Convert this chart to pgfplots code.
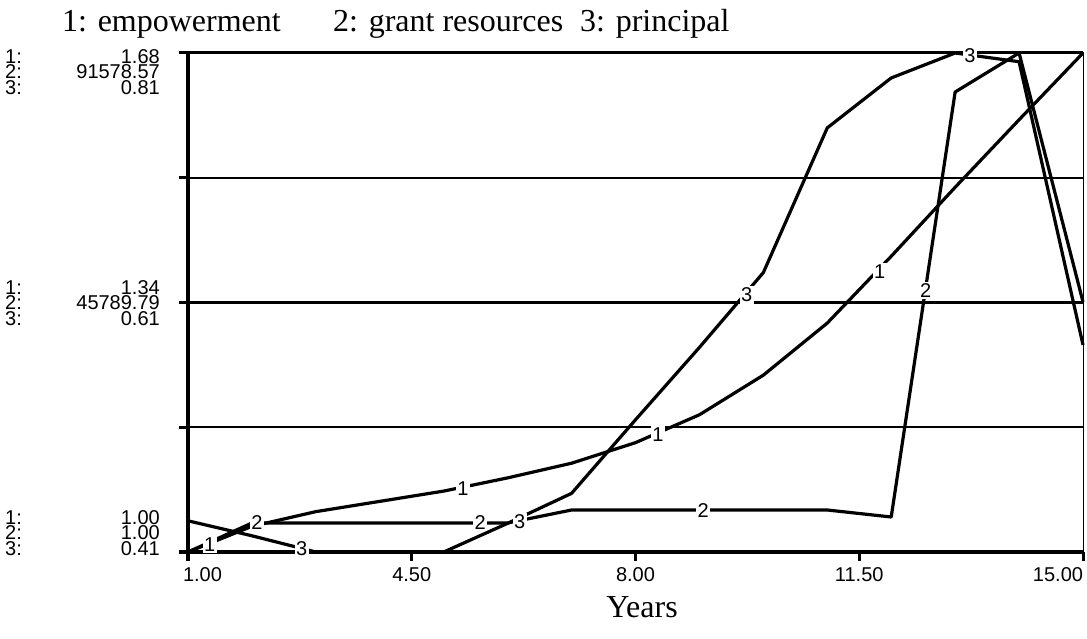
\documentclass[border=0pt]{standalone}
\usepackage{pgfplots}
\pgfplotsset{compat=1.18}
\usepackage{pgfplotstable}
\usepackage{fontspec}
\setmainfont{Liberation Serif}
\newfontfamily\hv{Liberation Sans}
\newcommand{\lbl}{\hv\fontsize{20bp}{20bp}\selectfont}
\newcommand{\grpfont}{\hv\fontsize{20bp}{15.5bp}\selectfont}
\newcommand{\ttl}{\rmfamily\fontsize{32bp}{32bp}\selectfont}

% 1: empowerment
\pgfplotstableread{
t v
1 1.000
2 1.035
3 1.055
4 1.069
5 1.083
6 1.101
7 1.121
8 1.149
9 1.187
10 1.241
11 1.312
12 1.403
13 1.497
14 1.589
15 1.680
}\sone
% 2: grant resources
\pgfplotstableread{
t v
1 1
2 5323
3 5323
4 5323
5 5323
6 5323
7 7709
8 7709
9 7709
10 7709
11 7709
12 6424
13 84420
14 91578.57
15 45881
}\stwo
% 3: principal
\pgfplotstableread{
t v
1 0.435
2 0.423
3 0.410
4 0.410
5 0.410
6 0.433
7 0.457
8 0.516
9 0.574
10 0.634
11 0.750
12 0.790
13 0.810
14 0.803
15 0.576
}\sthree
% line label positions
\pgfplotstableread{
t v
1.34 1.010
5.30 1.086
8.35 1.160
11.82 1.382
}\lone
\pgfplotstableread{
t v
2.08 5323
5.57 5323
9.06 7600
12.54 48000
}\ltwo
\pgfplotstableread{
t v
2.78 0.413
6.19 0.434
9.74 0.616
13.23 0.808
}\lthree

\newcommand{\grp}[4]{%
  \node[anchor=west,inner sep=0pt,font=\grpfont,align=left] at (-183bp,#1bp) {1:\\2:\\3:};
  \node[anchor=east,inner sep=0pt,font=\grpfont,align=right] at (-28bp,#1bp) {#2\\#3\\#4};
}

\begin{document}
\begin{tikzpicture}
\path[use as bounding box] (-188bp,-87bp) rectangle (899bp,552bp);
\begin{axis}[
  at={(0,0)}, anchor=south west,
  width=895bp, height=499bp, scale only axis,
  xmin=1, xmax=15, ymin=0, ymax=1,
  clip=false,
  axis line style={line width=1bp, black},
  xtick={1,4.5,8,11.5,15},
  xticklabels={\rlap{\kern-5bp 1.00},4.50,8.00,11.50,\llap{15.00}},
  xtick pos=bottom, ytick pos=left,
  ytick={0,0.5,1}, yticklabels={},
  tick align=outside, major tick length=9bp,
  tick style={line width=3bp, black},
  ymajorgrids, major grid style={line width=3bp, black},
  extra y ticks={0.25,0.75}, extra y tick labels={},
  extra y tick style={major grid style={line width=2bp, black}},
  extra x ticks={1}, extra x tick labels={},
  extra x tick style={xmajorgrids=true, major grid style={line width=4bp, black}},
  xticklabel style={font=\lbl, inner sep=0pt, anchor=north, yshift=-6bp},
  every axis plot/.append style={line join=round},
]
\addplot[black, line width=3.2bp] table[x=t, y expr={(\thisrow{v}-1)/0.68}] {\sone};
\addplot[black, line width=3.2bp] table[x=t, y expr={(\thisrow{v}-1)/91577.57}] {\stwo};
\addplot[black, line width=3.2bp] table[x=t, y expr={(\thisrow{v}-0.41)/0.40}] {\sthree};

\addplot[draw=none, nodes near coords={1},
  every node near coord/.append style={anchor=center, fill=white, inner sep=1.5bp, font=\lbl}]
  table[x=t, y expr={(\thisrow{v}-1)/0.68}] {\lone};
\addplot[draw=none, nodes near coords={2},
  every node near coord/.append style={anchor=center, fill=white, inner sep=1.5bp, font=\lbl}]
  table[x=t, y expr={(\thisrow{v}-1)/91577.57}] {\ltwo};
\addplot[draw=none, nodes near coords={3},
  every node near coord/.append style={anchor=center, fill=white, inner sep=1.5bp, font=\lbl}]
  table[x=t, y expr={(\thisrow{v}-0.41)/0.40}] {\lthree};
\end{axis}

\grp{480}{1.68}{91578.57}{0.81}
\grp{249}{1.34}{45789.79}{0.61}
\grp{19}{1.00}{1.00}{0.41}

\node[anchor=base west, inner sep=0pt, font=\ttl] at (-126bp,520bp) {1: empowerment};
\node[anchor=base west, inner sep=0pt, font=\ttl] at (145bp,520bp) {2: grant resources};
\node[anchor=base west, inner sep=0pt, font=\ttl] at (392bp,520bp) {3: principal};
\node[anchor=center, inner sep=0pt, font=\ttl] at (454bp,-55bp) {Years};
\end{tikzpicture}
\end{document}
